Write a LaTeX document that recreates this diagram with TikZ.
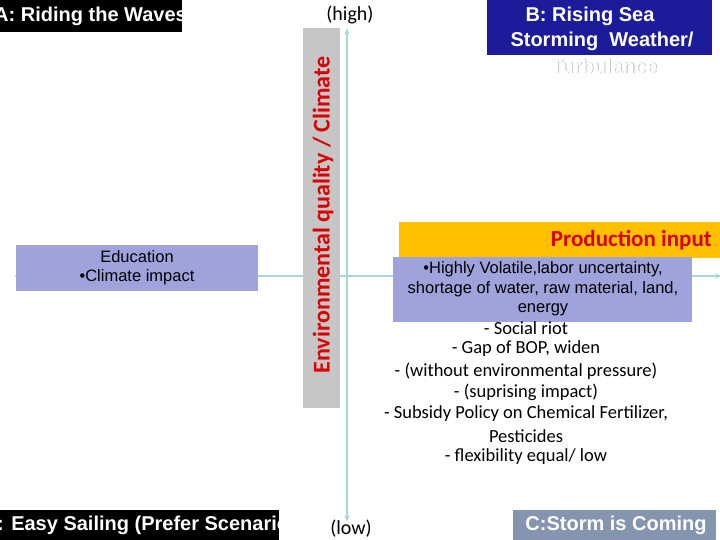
\documentclass[tikz,border=0pt]{standalone}
\usepackage{fontspec}
\setmainfont{Liberation Sans}
\newfontfamily\calfont{Carlito}
\usetikzlibrary{arrows.meta}
\definecolor{axc}{HTML}{A9D6DA}
\definecolor{lav}{HTML}{A0A2DC}
\definecolor{navy}{HTML}{1C1C9A}
\definecolor{orng}{HTML}{FFC000}
\definecolor{stormc}{HTML}{8595B0}
\begin{document}
\begin{tikzpicture}[x=1pt,y=-1pt,
  ax/.style={draw=axc,line width=2pt,{Stealth[length=7pt]}-{Stealth[length=7pt]}},
  ttl/.style={text=white,font=\bfseries\fontsize{20}{23}\selectfont,inner sep=0pt},
  lavbox/.style={fill=lav,inner sep=0pt},
  cl/.style={font=\calfont\fontsize{18.5}{21}\selectfont,anchor=center,inner sep=0pt}]
\useasboundingbox (0,0) rectangle (720,540);
\begin{scope}
\clip (0,0) rectangle (720,540);
% axes
\coordinate (vt) at (347,28); \coordinate (vb) at (347,522);
\coordinate (hl) at (14,276); \coordinate (hr) at (722,276);
\draw[ax] (vb) -- (vt);
\draw[ax] (hl) -- (hr);
% gray axis label
\node[fill=gray!45,minimum width=37pt,minimum height=380pt,inner sep=0pt] (gbox) at (321.5,218) {};
\node[rotate=90,text=red!85!black,font=\calfont\bfseries\fontsize{24}{26}\selectfont,inner sep=0pt] (axlab) at (323,215) {Environmental quality / Climate};
\node[font=\calfont\fontsize{20}{22}\selectfont] (high) at (350,15) {(high)};
\node[font=\calfont\fontsize{20}{22}\selectfont] (low) at (351,529) {(low)};
% A
\node[fill=black,minimum width=182pt,minimum height=32pt,anchor=north west,inner sep=0pt] (A) at (0,0) {};
\node[ttl,anchor=west] (At) at (-6,16) {A: Riding the Waves};
% B
\node[fill=navy,minimum width=225pt,minimum height=55pt,anchor=north west,inner sep=0pt] (B) at (487,0) {};
\node[ttl] (B1) at (590,16) {B: Rising Sea};
\node[ttl] (B2) at (602,41) {Storming\ \ Weather/};
\node[ttl,text=gray!60] (B3s) at (604.8,66.8) {Turbulance};
\node[ttl] (B3) at (604,66) {Turbulance};
% production input
\node[fill=orng,minimum width=321pt,minimum height=36pt,anchor=north west,inner sep=0pt] (P) at (399,222) {};
\node[text=red!85!black,font=\calfont\bfseries\fontsize{23}{25}\selectfont,anchor=east,inner sep=0pt] (Pt) at (712,240) {Production input};
\node[lavbox,minimum width=299pt,minimum height=65pt,anchor=north west] (L) at (393,257) {};
\node[font=\fontsize{16.5}{19.5}\selectfont,align=center,inner sep=0pt] (Lt) at (543,289) {•Highly Volatile,labor uncertainty,\\shortage of water, raw material, land,\\energy};
% education
\node[lavbox,minimum width=242pt,minimum height=46pt,anchor=north west] (E) at (16,245) {};
\node[font=\fontsize{16.5}{19}\selectfont,align=center,inner sep=0pt] (Et) at (137,268) {Education\\•Climate impact};
% list
\node[cl] (l1) at (526,328) {- Social riot};
\node[cl] (l2) at (526,349) {- Gap of BOP, widen};
\node[cl] (l3) at (526,371) {- (without environmental pressure)};
\node[cl] (l4) at (526,392) {- (suprising impact)};
\node[cl] (l5) at (526,414) {- Subsidy Policy on Chemical Fertilizer,};
\node[cl] (l6) at (526,436) {Pesticides};
\node[cl] (l7) at (526,457) {- flexibility equal/ low};
% C
\node[fill=black,minimum width=279pt,minimum height=30pt,anchor=north west,inner sep=0pt] (C) at (0,510) {};
\node[ttl,anchor=west] (Ct) at (-3,525) {: Easy Sailing (Prefer Scenario)};
% storm
\node[fill=stormc,minimum width=203pt,minimum height=30pt,anchor=north west,inner sep=0pt] (S) at (513,510) {};
\node[ttl] (St) at (616,525) {C:Storm is Coming};
\end{scope}
\end{tikzpicture}
\end{document}
